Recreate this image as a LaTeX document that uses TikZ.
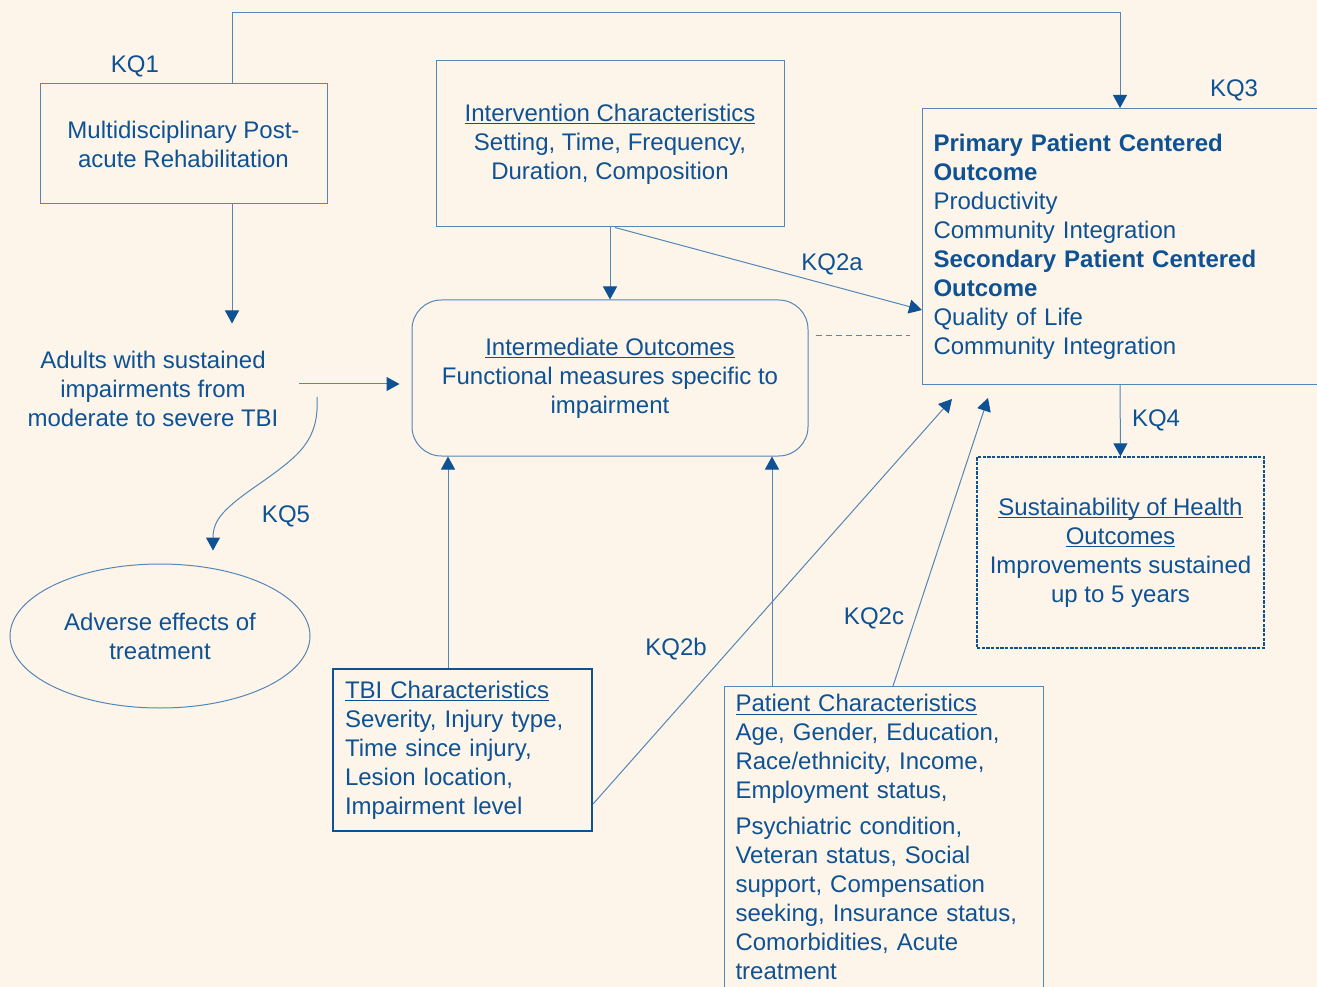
\documentclass[tikz,border=0pt]{standalone}
\usepackage{fontspec}
\setmainfont{Liberation Sans}
\usetikzlibrary{arrows.meta,shapes.geometric,positioning}
\definecolor{paper}{RGB}{253,245,234}
\definecolor{inkblue}{RGB}{14,82,148}
\definecolor{edgeblue}{RGB}{84,134,182}
\newsavebox{\headbox}
\newcommand{\uhead}[1]{\sbox{\headbox}{#1}\rlap{\rule[-2.4pt]{\wd\headbox}{0.8pt}}\usebox{\headbox}}
\begin{document}
\begin{tikzpicture}[x=0.75pt,y=0.75pt,yscale=-1,xscale=1,
    every node/.style={font=\fontsize{18pt}{21.75pt}\selectfont, text=inkblue},
    plainbox/.style={draw=edgeblue, line width=0.75pt, inner sep=0pt},
    leftbox/.style={draw=edgeblue, line width=0.75pt, align=left, inner ysep=6pt},
    kqlabel/.style={yshift=-1.2pt},
    conn/.style={draw=edgeblue, line width=0.75pt},
    arr/.style={conn, -{Triangle[length=9.75pt,width=10.5pt,color=inkblue]}}]
        \useasboundingbox (0,0) rectangle (1317,987);
        \fill[paper] (0,0) rectangle (1317,987);
        \clip (0,0) rectangle (1317,987);

        %Rectangles
        \node[plainbox, minimum width=215.25pt, minimum height=90pt, align=center] (rehab) at (183.5,144) {Multidisciplinary Post-\\acute Rehabilitation};
        \node[plainbox, minimum width=261pt, minimum height=124.5pt, align=center] (int) at (610,144) {\uhead{Intervention Characteristics}\\Setting, Time, Frequency,\\Duration, Composition};
        \node[plainbox, rounded corners=22pt, minimum width=297pt, minimum height=117pt, align=center] (inter) at (610,378) {\uhead{Intermediate Outcomes}\\Functional measures specific to\\impairment};
        \node[leftbox, anchor=north west, text width=300pt, inner xsep=8.25pt, minimum height=207pt] (outc) at (922,108) {\textbf{Primary Patient Centered}\\\textbf{Outcome}\\Productivity\\Community Integration\\\textbf{Secondary Patient Centered}\\\textbf{Outcome}\\Quality of Life\\Community Integration};
        \node[plainbox, draw=inkblue, line width=1pt, dash pattern=on 2.5pt off 1pt, minimum width=215.25pt, minimum height=143.25pt, align=center] (sust) at (1120.5,552.5) {\uhead{Sustainability of Health}\\\uhead{Outcomes}\\Improvements sustained\\up to 5 years};
        \node[leftbox, draw=inkblue, line width=1.5pt, text width=176.25pt, inner xsep=9pt, minimum height=121.5pt] (tbi) at (462.5,750) {\uhead{TBI Characteristics}\\Severity, Injury type,\\Time since injury,\\Lesion location,\\Impairment level};
        \node[leftbox, anchor=north west, text width=222.75pt, inner xsep=8.25pt] (pat) at (724,686) {\uhead{Patient Characteristics}\\Age, Gender, Education,\\Race/ethnicity, Income,\\Employment status,\\[5.25pt]Psychiatric condition,\\Veteran status, Social\\support, Compensation\\seeking, Insurance status,\\Comorbidities, Acute\\treatment};

        %Population and ellipse
        \node[align=center] (adults) at (153,389) {Adults with sustained\\impairments from\\moderate to severe TBI};
        \node[ellipse, draw=edgeblue, line width=0.75pt, minimum width=225pt, minimum height=108pt, align=center, inner sep=0pt] (adverse) at (160,636) {Adverse effects of\\treatment};

        %Labels
        \node[kqlabel] (kqone) at (135,65) {KQ1};
        \node[kqlabel] (kqtwoa) at (832,263) {KQ2a};
        \node[kqlabel] (kqtwob) at (676,647) {KQ2b};
        \node[kqlabel] (kqtwoc) at (874,617) {KQ2c};
        \node[kqlabel] (kqthree) at (1234,89) {KQ3};
        \node[kqlabel] (kqfour) at (1156,419) {KQ4};
        \node[kqlabel] (kqfive) at (286,515) {KQ5};

        %Straight Lines
        \coordinate (kqL) at (232,13);
        \coordinate (kqR) at (1120,13);
        \draw[arr] (rehab.north -| kqL) -- (kqL) -- (kqR) -- (kqR |- outc.north);
        \draw[arr] (rehab.south -| kqL) -- ++(0,119);
        \draw[arr] ([shift={(16,-5)}]adults.east) -- ([shift={(-12,6)}]inter.west);
        \draw[arr] (int.south) -- (inter.north);
        \draw[arr] ([shift={(5,0)}]int.south) -- ([shift={(0,202)}]outc.north west);
        \draw[conn, dash pattern=on 4.5pt off 3pt] ([shift={(7,-42)}]inter.east) -- ([shift={(-12,228)}]outc.north west);
        \draw[arr] ([shift={(-14.5,0)}]tbi.north) -- ([shift={(-14.5,0)}]tbi.north |- inter.south);
        \draw[arr] ([shift={(48,0)}]pat.north west) -- ([shift={(48,0)}]pat.north west |- inter.south);
        \draw[arr] ([shift={(0,54)}]tbi.east) -- ([shift={(30,14)}]outc.south west);
        \draw[arr] ([shift={(169,0)}]pat.north west) -- ([shift={(66,13)}]outc.south west);
        \draw[arr] (kqR |- outc.south) -- (sust.north);

        %Curve Lines
        \draw[arr] ([shift={(34,8)}]adults.east) .. controls +(2,43) and +(38,-27) .. (262,482) .. controls +(-38,26) and +(0,-31) .. ([shift={(53,-13)}]adverse.north);
\end{tikzpicture}
\end{document}
